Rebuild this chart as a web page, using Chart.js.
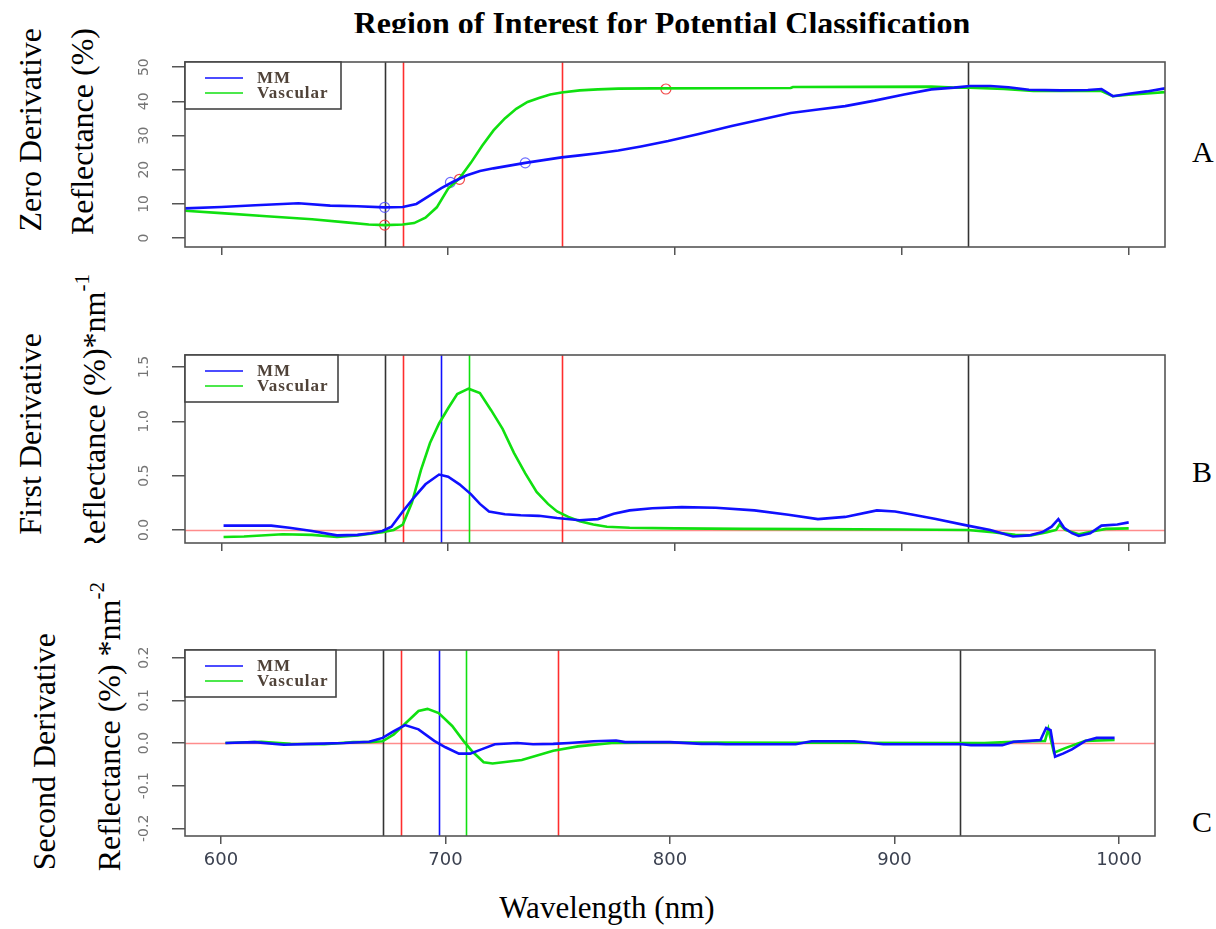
<!DOCTYPE html>
<html>
<head>
<meta charset="utf-8">
<script src="https://cdn.jsdelivr.net/npm/chart.js@4.4.1/dist/chart.umd.min.js"></script>
<style>
  body { margin: 0; background: #fff; }
  #page { position: relative; width: 1216px; height: 929px; overflow: hidden;
          font-family: "Liberation Serif", "Times New Roman", serif; color: #000; }
  canvas { position: absolute; left: 0; }
  .vlab { position: absolute; writing-mode: vertical-rl; transform: rotate(180deg);
          white-space: nowrap; font-size: 32px; line-height: 40px; width: 40px; }
  .vlab sup { font-size: 21px; }
  .clip { position: absolute; overflow: hidden; }
  .letter { position: absolute; font-size: 30px; line-height: 30px; }
</style>
</head>
<body>
<div id="page">
  <div class="clip" style="left:0;top:0;width:1216px;height:33px;">
    <div style="position:absolute;left:0;top:7px;width:1324px;text-align:center;font-size:32px;line-height:32px;font-weight:bold;">Region of Interest for Potential Classification</div>
  </div>

  <div class="vlab" style="left:10px;top:28px;">Zero Derivative</div>
  <div class="vlab" style="left:62px;top:28px;">Reflectance (%)</div>

  <div class="vlab" style="left:10px;top:333px;">First Derivative</div>
  <div class="clip" style="left:40px;top:260px;width:80px;height:283px;">
    <div class="vlab" style="left:22px;top:14px;">Reflectance (%)*nm<sup>-1</sup></div>
  </div>

  <div class="vlab" style="left:24px;top:633px;">Second Derivative</div>
  <div class="vlab" style="left:77px;top:582px;">Reflectance (%) *nm<sup>-2</sup></div>

  <div class="letter" style="left:1192px;top:137px;">A</div>
  <div class="letter" style="left:1192px;top:457px;">B</div>
  <div class="letter" style="left:1192px;top:807px;">C</div>

  <div style="position:absolute;left:407px;top:890px;width:400px;text-align:center;font-size:31px;line-height:36px;">Wavelength (nm)</div>

  <canvas id="chartA" width="1216" height="215" style="top:50px;"></canvas>
  <canvas id="chartB" width="1216" height="215" style="top:345px;"></canvas>
  <canvas id="chartC" width="1216" height="240" style="top:640px;"></canvas>
</div>

<script>
// shared axis values
const xTicks = [600, 700, 800, 900, 1000];
const wlMin = 584, wlMax = 1016;
const boundaryNm = [672, 929];
const windowNm = [680, 750];
const peakMM = 697, peakVasc = 709;

// A: zero derivative (reflectance %)
const wlA_mm = [584, 600, 615, 634, 648, 660, 672, 680, 686, 692, 697, 702, 708, 714, 720, 727, 734, 742, 750, 758, 766, 775, 785, 797, 810, 825, 840, 851, 863, 875, 888, 901, 913, 923, 930, 939, 947, 956, 970, 982, 988, 993, 1000, 1008, 1016];
const A_mm   = [8.7, 9.1, 9.6, 10.2, 9.5, 9.3, 9.0, 9.1, 10.0, 12.5, 14.6, 16.4, 18.3, 19.6, 20.4, 21.2, 22.0, 22.8, 23.6, 24.2, 24.8, 25.6, 26.8, 28.4, 30.4, 32.8, 35.0, 36.6, 37.6, 38.6, 40.2, 42.0, 43.5, 44.0, 44.5, 44.5, 44.1, 43.4, 43.2, 43.3, 43.6, 41.5, 42.2, 42.9, 43.8];
const wlA_vasc = [584, 600, 620, 640, 655, 665, 672, 680, 685, 690, 695, 700, 705, 710, 715, 720, 725, 730, 735, 740, 745, 750, 758, 766, 775, 790, 851, 852, 913, 923, 930, 945, 958, 975, 988, 993, 1000, 1008, 1016];
const A_vasc   = [8.0, 7.3, 6.4, 5.5, 4.6, 4.0, 3.8, 4.0, 4.4, 6.0, 9.0, 14.5, 17.5, 22.0, 27.0, 31.5, 35.0, 37.8, 39.8, 41.0, 42.0, 42.6, 43.2, 43.5, 43.7, 43.8, 43.9, 44.2, 44.3, 44.0, 44.0, 43.6, 43.0, 43.0, 43.0, 41.5, 41.9, 42.3, 42.7];
const A_markMM_wl = [672, 701, 734];
const A_markMM = [9.0, 16.3, 22.0];
const A_markVasc_wl = [672, 705, 796];
const A_markVasc = [3.8, 17.2, 43.6];
const A_yTicks = [0, 10, 20, 30, 40, 50];

// B: first derivative
const wlB_mm = [601, 610, 622, 630, 640, 651, 660, 666, 671, 675, 680, 685, 690, 696, 700, 705, 710, 714, 718, 725, 732, 740, 748, 758, 766, 773, 780, 790, 803, 818, 835, 850, 863, 875, 889, 897, 905, 915, 929, 939, 949, 956, 962, 966, 969, 971.5, 975, 978, 983, 988, 995, 1000];
const B_mm   = [0.04, 0.04, 0.04, 0.02, -0.01, -0.05, -0.045, -0.03, -0.01, 0.03, 0.17, 0.30, 0.42, 0.51, 0.49, 0.42, 0.33, 0.24, 0.17, 0.145, 0.135, 0.13, 0.11, 0.09, 0.10, 0.15, 0.18, 0.20, 0.21, 0.205, 0.18, 0.14, 0.10, 0.12, 0.18, 0.17, 0.14, 0.10, 0.04, 0.0, -0.06, -0.05, -0.02, 0.03, 0.10, 0.02, -0.03, -0.055, -0.03, 0.04, 0.05, 0.07];
const wlB_vasc = [601, 610, 627, 640, 651, 660, 671, 676, 680, 684, 688, 692, 696, 700, 704, 709, 714, 719, 724, 729, 734, 739, 744, 748, 753, 758, 764, 770, 780, 800, 830, 860, 900, 929, 940, 950, 957, 964, 968, 969.5, 972, 978, 985, 990, 1000];
const B_vasc   = [-0.065, -0.06, -0.04, -0.045, -0.065, -0.05, -0.02, 0.0, 0.05, 0.25, 0.55, 0.80, 0.98, 1.12, 1.25, 1.30, 1.26, 1.10, 0.93, 0.71, 0.52, 0.35, 0.24, 0.17, 0.12, 0.08, 0.05, 0.03, 0.02, 0.015, 0.01, 0.008, 0.004, 0.0, -0.02, -0.045, -0.05, -0.02, 0.0, 0.05, 0.0, -0.04, -0.01, 0.01, 0.015];
const B_yTicks = [0, 0.5, 1.0, 1.5];

// C: second derivative
const wlC_mm = [602, 615, 628, 640, 655, 666, 672, 677, 682, 688, 695, 700, 706, 711, 716, 722, 732, 739, 748, 755, 766, 776, 780, 800, 814, 821, 825, 856, 863, 882, 895, 930, 934, 948, 953, 960, 965, 967.5, 969.5, 971.5, 975, 979, 985, 990, 998];
const C_mm   = [0.0, 0.002, -0.004, -0.002, 0.0, 0.003, 0.012, 0.028, 0.042, 0.032, 0.005, -0.01, -0.025, -0.025, -0.015, -0.003, 0.0, -0.003, -0.002, 0.0, 0.004, 0.006, 0.002, 0.002, -0.002, -0.002, -0.003, -0.003, 0.004, 0.004, -0.003, -0.003, -0.005, -0.005, 0.003, 0.005, 0.007, 0.035, 0.03, -0.032, -0.025, -0.015, 0.005, 0.012, 0.012];
const wlC_vasc = [602, 618, 631, 646, 659, 666, 672, 677, 682, 688, 692, 697, 703, 708, 712, 717, 721, 734, 748, 759, 774, 800, 940, 950, 960, 967, 968.5, 971, 976, 985, 998];
const C_vasc   = [0.0, 0.003, -0.002, -0.003, 0.002, 0.002, 0.004, 0.02, 0.045, 0.075, 0.08, 0.07, 0.04, 0.005, -0.02, -0.045, -0.048, -0.04, -0.018, -0.008, 0.0, 0.001, 0.0, 0.002, 0.004, 0.005, 0.033, -0.023, -0.012, 0.005, 0.007];
const C_yTicks = [-0.2, -0.1, 0, 0.1, 0.2];

const BLUE = '#1010ff', GREEN = '#10e010', RED = '#ff2d2d', BLACK = '#333', FRAME = '#555';

function pts(xs, ys) { return xs.map((x, i) => ({ x, y: ys[i] })); }

function curve(label, xs, ys, color) {
  return { label, data: pts(xs, ys), borderColor: color, borderWidth: 2.6, pointRadius: 0, tension: 0, legend: true };
}

function marks(xs, ys, color) {
  return { label: '', data: pts(xs, ys), showLine: false, pointRadius: 5, pointBorderWidth: 1.2,
           pointBorderColor: color, pointBackgroundColor: 'rgba(0,0,0,0)', legend: false };
}

function vline(ctx, px, top, bottom, color, w) {
  ctx.strokeStyle = color; ctx.lineWidth = w;
  ctx.beginPath(); ctx.moveTo(px, top); ctx.lineTo(px, bottom); ctx.stroke();
}

const framePlugin = {
  id: 'frame',
  beforeDatasetsDraw(chart, args, o) {
    const { ctx, chartArea: a, scales: { x, y } } = chart;
    ctx.save();
    if (o.zero) {
      const py = Math.round(y.getPixelForValue(0)) + 0.5;
      ctx.strokeStyle = '#ff8c8c'; ctx.lineWidth = 1.5;
      ctx.beginPath(); ctx.moveTo(a.left, py); ctx.lineTo(a.right, py); ctx.stroke();
    }
    o.lines.forEach(l => vline(ctx, Math.round(x.getPixelForValue(l.nm)) + 0.5, a.top, a.bottom, l.color, 1.6));
    ctx.restore();
  },
  afterDraw(chart, args, o) {
    const { ctx, chartArea: a, scales: { y } } = chart;
    ctx.save();
    ctx.strokeStyle = FRAME; ctx.lineWidth = 1.6;
    ctx.strokeRect(a.left, a.top, a.right - a.left, a.bottom - a.top);

    // rotated y tick labels, as R draws them
    ctx.fillStyle = '#747474';
    ctx.font = '14px "DejaVu Sans"';
    ctx.textAlign = 'center'; ctx.textBaseline = 'middle';
    o.yTicks.forEach(v => {
      ctx.save();
      ctx.translate(a.left - 41, y.getPixelForValue(v));
      ctx.rotate(-Math.PI / 2);
      ctx.fillText(o.fmt(v), 0, 0);
      ctx.restore();
    });

    // legend box in the top-left corner
    const lw = o.legendW, lh = 47, lx = a.left, ly = a.top;
    ctx.fillStyle = '#fff';
    ctx.fillRect(lx, ly, lw, lh);
    ctx.strokeStyle = '#444'; ctx.lineWidth = 1.6;
    ctx.strokeRect(lx, ly, lw, lh);
    ctx.font = 'bold 17px "Liberation Serif"';
    ctx.letterSpacing = '1px';
    ctx.textAlign = 'left';
    chart.data.datasets.filter(d => d.legend).forEach((d, i) => {
      const yy = ly + 16 + i * 15;
      ctx.strokeStyle = d.borderColor; ctx.lineWidth = 1.4;
      ctx.beginPath(); ctx.moveTo(lx + 20, yy); ctx.lineTo(lx + 58, yy); ctx.stroke();
      ctx.fillStyle = '#4f4238';
      ctx.fillText(d.label, lx + 72, yy + 1);
    });
    ctx.restore();
  }
};

function makePanel(id, opts) {
  return new Chart(document.getElementById(id), {
    type: 'line',
    data: { datasets: opts.datasets },
    options: {
      responsive: false, animation: false, devicePixelRatio: 1,
      layout: { padding: opts.padding },
      plugins: {
        legend: { display: false }, tooltip: { enabled: false },
        frame: { lines: opts.lines, zero: opts.zero, yTicks: opts.yTicks, fmt: opts.fmt, legendW: opts.legendW }
      },
      scales: {
        x: {
          type: 'linear', min: wlMin, max: wlMax,
          afterBuildTicks: s => { s.ticks = xTicks.map(v => ({ value: v })); },
          afterFit: s => { s.height = opts.xHeight; },
          grid: { drawOnChartArea: false, drawTicks: true, tickLength: 8, color: FRAME, lineWidth: 1.5 },
          border: { display: false },
          ticks: { display: opts.xLabels, autoSkip: false, maxRotation: 0, padding: 6,
                   callback: v => String(v),
                   color: '#3b4150', font: { family: 'DejaVu Sans', size: 18 } }
        },
        y: {
          type: 'linear', min: opts.yMin, max: opts.yMax,
          afterBuildTicks: s => { s.ticks = opts.yTicks.map(v => ({ value: v })); },
          afterFit: s => { s.width = 40; },
          grid: { drawOnChartArea: false, drawTicks: true, tickLength: 13, color: FRAME, lineWidth: 1.5 },
          border: { display: false },
          ticks: { display: false }
        }
      }
    },
    plugins: [framePlugin]
  });
}

const frameLines = [
  { nm: boundaryNm[0], color: BLACK }, { nm: boundaryNm[1], color: BLACK },
  { nm: windowNm[0], color: RED }, { nm: windowNm[1], color: RED }
];
const peakLines = frameLines.concat([{ nm: peakMM, color: BLUE }, { nm: peakVasc, color: GREEN }]);

makePanel('chartA', {
  datasets: [
    curve('MM', wlA_mm, A_mm, BLUE),
    curve('Vascular', wlA_vasc, A_vasc, GREEN),
    marks(A_markMM_wl, A_markMM, 'rgba(70,70,255,0.8)'),
    marks(A_markVasc_wl, A_markVasc, 'rgba(240,50,50,0.9)')
  ],
  padding: { left: 145, right: 51, top: 12, bottom: 6 },
  xHeight: 12, xLabels: false, yMin: -2.6, yMax: 51.5, yTicks: A_yTicks, fmt: v => String(v),
  lines: frameLines, zero: false, legendW: 156
});

makePanel('chartB', {
  datasets: [curve('MM', wlB_mm, B_mm, BLUE), curve('Vascular', wlB_vasc, B_vasc, GREEN)],
  padding: { left: 145, right: 51, top: 10, bottom: 5 },
  xHeight: 12, xLabels: false, yMin: -0.12, yMax: 1.61, yTicks: B_yTicks, fmt: v => v.toFixed(1),
  lines: peakLines, zero: true, legendW: 153
});

makePanel('chartC', {
  datasets: [curve('MM', wlC_mm, C_mm, BLUE), curve('Vascular', wlC_vasc, C_vasc, GREEN)],
  padding: { left: 145, right: 61, top: 10, bottom: 4 },
  xHeight: 40, xLabels: true, yMin: -0.218, yMax: 0.218, yTicks: C_yTicks, fmt: v => v.toFixed(1),
  lines: peakLines, zero: true, legendW: 151
});
</script>
</body>
</html>
